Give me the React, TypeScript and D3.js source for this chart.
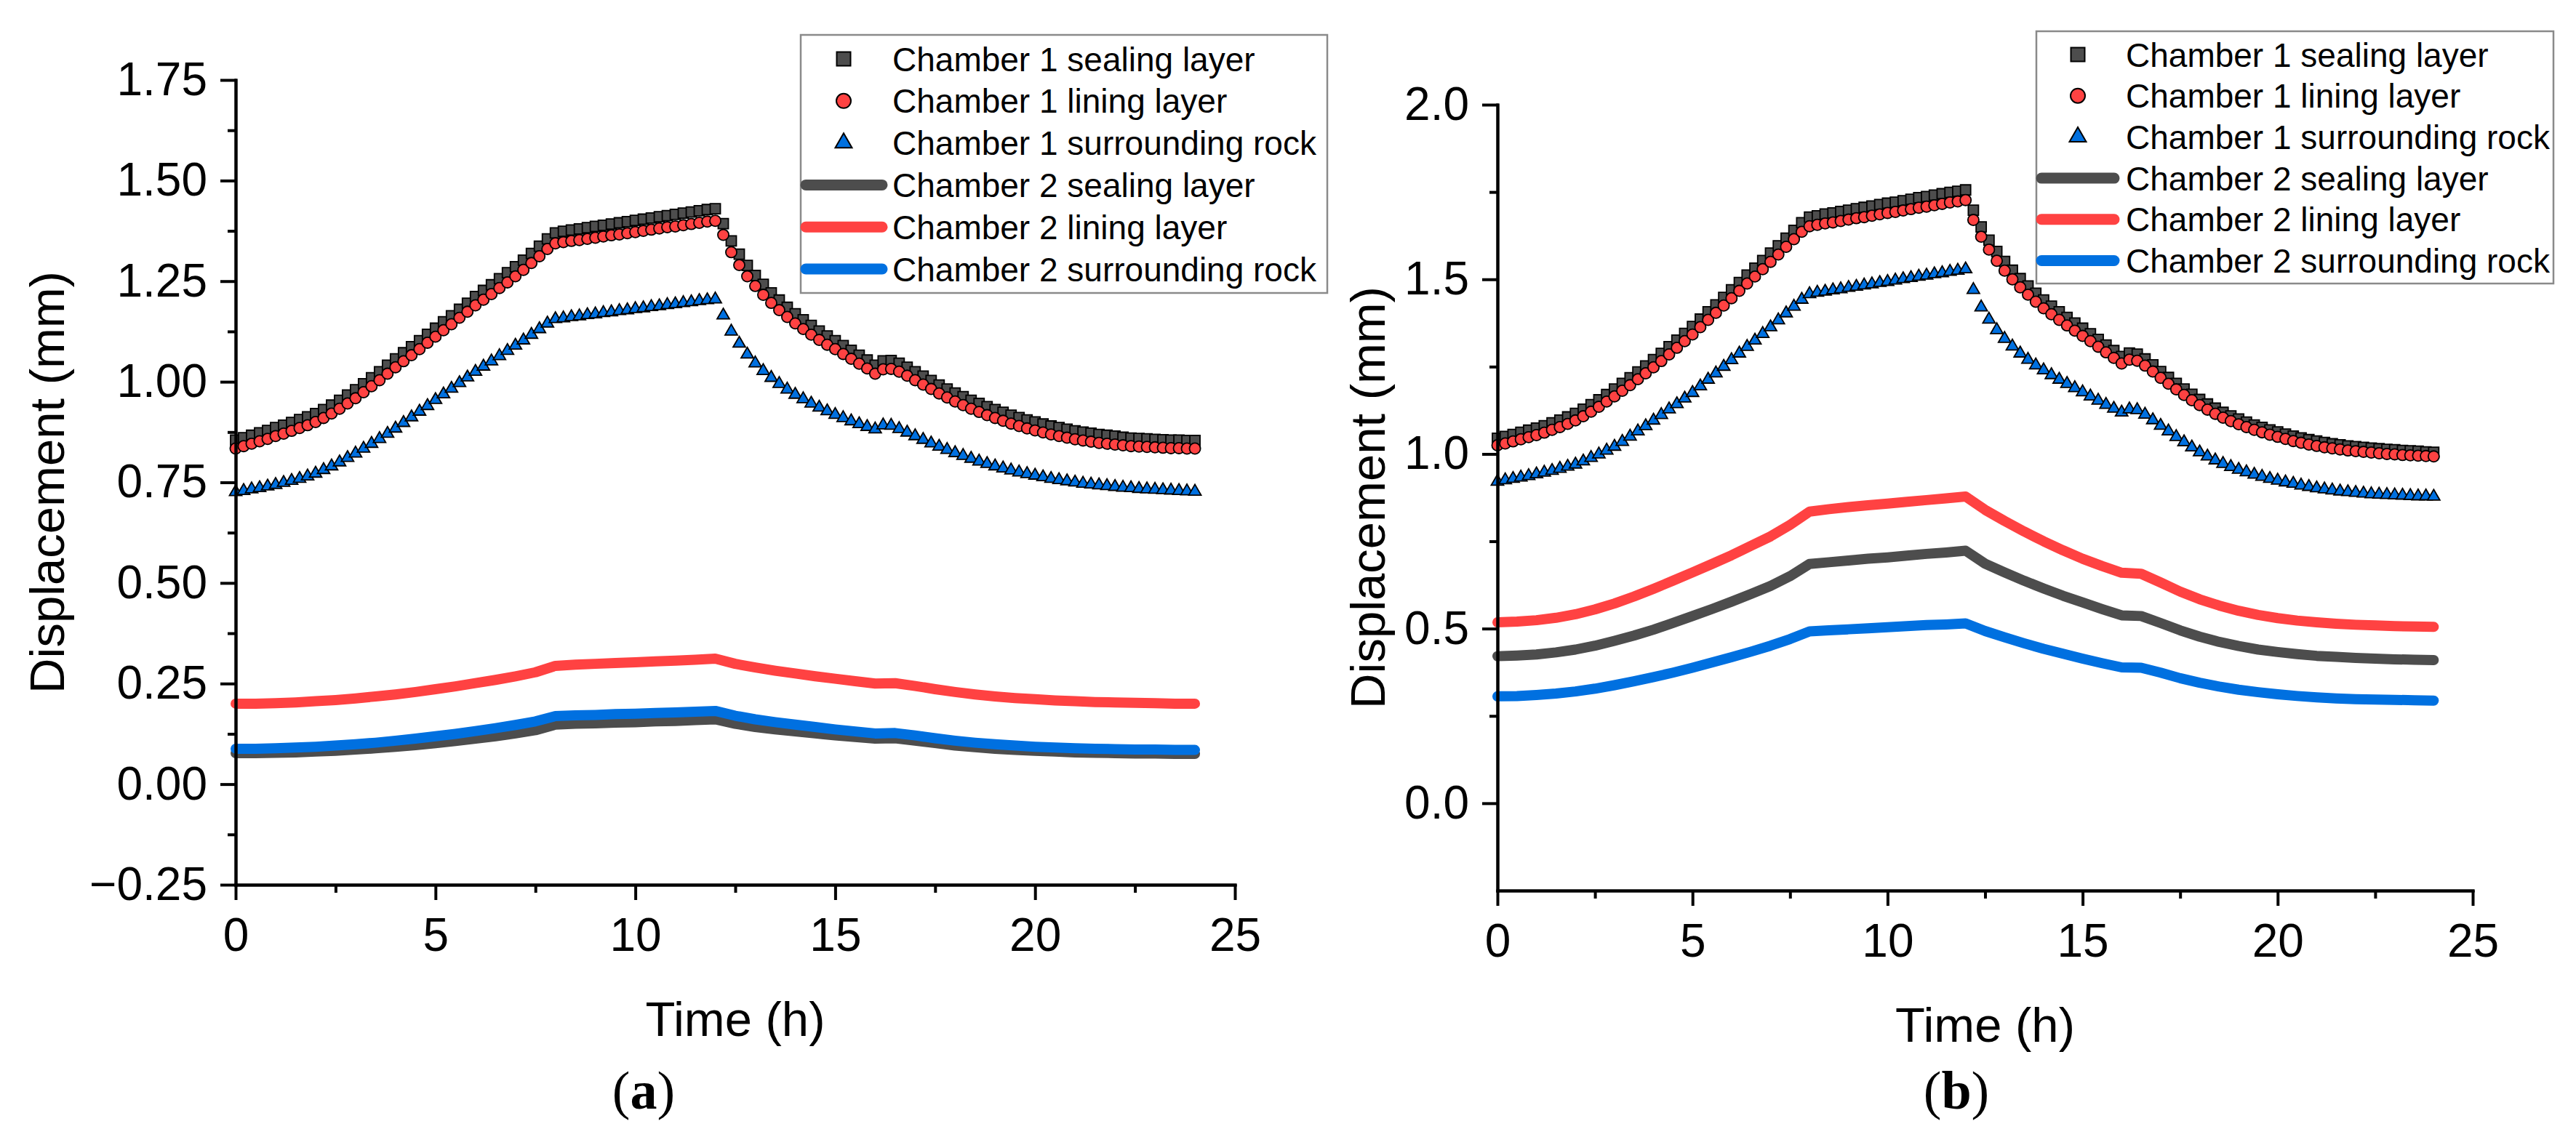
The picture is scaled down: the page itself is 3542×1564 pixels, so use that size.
import { useEffect, useRef } from "react";
import * as d3 from "d3";

const W = 3542;
const H = 1564;
const SANS = "'Liberation Sans', Arial, Helvetica, sans-serif";
const SERIF = "'Liberation Serif', 'Times New Roman', serif";

// sampling interval of the chamber 1 (marker) series and chamber 2 (line) series, in hours
const MARK_STEP = 0.2;
const LINE_STEP = 0.5;

const legendLabels = [
  "Chamber 1 sealing layer",
  "Chamber 1 lining layer",
  "Chamber 1 surrounding rock",
  "Chamber 2 sealing layer",
  "Chamber 2 lining layer",
  "Chamber 2 surrounding rock",
];

const xTicks = [0, 5, 10, 15, 20, 25];
const xMinorTicks = [2.5, 7.5, 12.5, 17.5, 22.5];
const yTicksA = [-0.25, 0, 0.25, 0.5, 0.75, 1, 1.25, 1.5, 1.75];
const yMinorA = [-0.125, 0.125, 0.375, 0.625, 0.875, 1.125, 1.375, 1.625];
const yTicksB = [0, 0.5, 1, 1.5, 2];
const yMinorB = [0.25, 0.75, 1.25, 1.75];

// ---- panel (a) ----
const sealA = [
  0.855, 0.861, 0.867, 0.873, 0.879, 0.886, 0.892, 0.899, 0.906, 0.913,
  0.921, 0.931, 0.942, 0.954, 0.967, 0.98, 0.995, 1.01, 1.025, 1.041,
  1.057, 1.072, 1.087, 1.102, 1.118, 1.133, 1.149, 1.164, 1.18, 1.195,
  1.212, 1.227, 1.241, 1.256, 1.271, 1.286, 1.302, 1.319, 1.337, 1.355,
  1.37, 1.374, 1.377, 1.38, 1.383, 1.386, 1.389, 1.392, 1.395, 1.398,
  1.401, 1.404, 1.407, 1.41, 1.413, 1.416, 1.419, 1.422, 1.425, 1.428,
  1.43, 1.393, 1.35, 1.317, 1.289, 1.264, 1.242, 1.221, 1.203, 1.185,
  1.169, 1.154, 1.14, 1.126, 1.114, 1.102, 1.09, 1.078, 1.066, 1.054,
  1.041, 1.052, 1.053, 1.046, 1.036, 1.025, 1.014, 1.003, 0.992, 0.982,
  0.972, 0.963, 0.954, 0.946, 0.938, 0.931, 0.924, 0.917, 0.911, 0.905,
  0.9, 0.895, 0.89, 0.886, 0.882, 0.878, 0.875, 0.872, 0.869, 0.867,
  0.865, 0.862, 0.86, 0.859, 0.858, 0.857, 0.856, 0.855, 0.855, 0.854,
  0.854,
];
const liningA = [
  0.834, 0.84, 0.846, 0.852, 0.858, 0.865, 0.871, 0.878, 0.885, 0.892,
  0.9, 0.91, 0.921, 0.933, 0.946, 0.959, 0.974, 0.989, 1.004, 1.02,
  1.036, 1.051, 1.066, 1.081, 1.097, 1.112, 1.128, 1.143, 1.159, 1.174,
  1.19, 1.204, 1.218, 1.233, 1.247, 1.262, 1.278, 1.295, 1.312, 1.33,
  1.344, 1.347, 1.35, 1.352, 1.355, 1.358, 1.361, 1.364, 1.366, 1.369,
  1.372, 1.375, 1.378, 1.381, 1.384, 1.386, 1.389, 1.392, 1.395, 1.398,
  1.4, 1.365, 1.322, 1.29, 1.262, 1.238, 1.216, 1.196, 1.178, 1.161,
  1.145, 1.131, 1.117, 1.104, 1.092, 1.081, 1.069, 1.057, 1.045, 1.033,
  1.02, 1.031, 1.032, 1.025, 1.015, 1.004, 0.993, 0.982, 0.971, 0.961,
  0.951, 0.942, 0.933, 0.925, 0.917, 0.91, 0.903, 0.896, 0.89, 0.884,
  0.879, 0.874, 0.869, 0.865, 0.861, 0.857, 0.854, 0.851, 0.848, 0.846,
  0.844, 0.842, 0.84, 0.839, 0.838, 0.837, 0.836, 0.835, 0.835, 0.834,
  0.834,
];
const rockA = [
  0.726, 0.729, 0.733, 0.736, 0.74, 0.744, 0.749, 0.754, 0.759, 0.765,
  0.772, 0.781, 0.79, 0.8, 0.811, 0.822, 0.834, 0.846, 0.858, 0.871,
  0.884, 0.898, 0.912, 0.926, 0.94, 0.955, 0.969, 0.983, 0.997, 1.011,
  1.025, 1.038, 1.051, 1.064, 1.077, 1.09, 1.103, 1.117, 1.131, 1.145,
  1.156, 1.158, 1.161, 1.163, 1.166, 1.168, 1.171, 1.173, 1.176, 1.178,
  1.181, 1.183, 1.186, 1.188, 1.191, 1.193, 1.196, 1.198, 1.201, 1.203,
  1.205, 1.165, 1.125, 1.095, 1.068, 1.046, 1.027, 1.01, 0.995, 0.981,
  0.968, 0.957, 0.946, 0.936, 0.927, 0.918, 0.91, 0.902, 0.895, 0.888,
  0.882, 0.892, 0.891, 0.883, 0.874, 0.865, 0.856, 0.847, 0.839, 0.831,
  0.823, 0.816, 0.809, 0.802, 0.796, 0.79, 0.785, 0.78, 0.775, 0.771,
  0.767, 0.763, 0.759, 0.756, 0.753, 0.75, 0.747, 0.745, 0.743, 0.741,
  0.739, 0.737, 0.736, 0.734, 0.733, 0.732, 0.731, 0.73, 0.729, 0.728,
  0.727,
];
const seal2A = [
  0.077, 0.077, 0.078, 0.079, 0.081, 0.083, 0.086, 0.089, 0.093, 0.097,
  0.102, 0.107, 0.113, 0.119, 0.126, 0.134, 0.148, 0.15, 0.151, 0.153,
  0.154, 0.156, 0.157, 0.159, 0.161, 0.15, 0.142, 0.136, 0.131, 0.126,
  0.121, 0.117, 0.113, 0.114, 0.108, 0.102, 0.096, 0.092, 0.088, 0.085,
  0.083, 0.081, 0.079, 0.078, 0.077, 0.076, 0.076, 0.075, 0.075,
];
const lining2A = [
  0.2, 0.2, 0.201, 0.203, 0.206, 0.209, 0.213, 0.218, 0.223, 0.229,
  0.236, 0.243, 0.251, 0.259, 0.268, 0.278, 0.294, 0.297, 0.299, 0.301,
  0.303, 0.305, 0.307, 0.309, 0.312, 0.299, 0.29, 0.282, 0.275, 0.268,
  0.262, 0.256, 0.25, 0.251, 0.244, 0.236, 0.229, 0.223, 0.218, 0.214,
  0.211, 0.208, 0.206, 0.204, 0.203, 0.202, 0.201, 0.2, 0.2,
];
const rock2A = [
  0.088, 0.088, 0.089, 0.091, 0.093, 0.096, 0.099, 0.103, 0.108, 0.113,
  0.119, 0.125, 0.132, 0.139, 0.147, 0.156, 0.169, 0.171, 0.172, 0.174,
  0.175, 0.177, 0.178, 0.18, 0.182, 0.17, 0.161, 0.154, 0.148, 0.142,
  0.136, 0.131, 0.126, 0.127, 0.121, 0.114, 0.108, 0.103, 0.099, 0.096,
  0.093, 0.091, 0.089, 0.088, 0.087, 0.086, 0.086, 0.085, 0.085,
];

// ---- panel (b) ----
const sealB = [
  1.045, 1.05, 1.056, 1.062, 1.068, 1.074, 1.081, 1.089, 1.097, 1.106,
  1.116, 1.128, 1.141, 1.155, 1.17, 1.186, 1.202, 1.218, 1.235, 1.252,
  1.27, 1.288, 1.307, 1.326, 1.345, 1.365, 1.386, 1.407, 1.427, 1.448,
  1.47, 1.491, 1.512, 1.532, 1.554, 1.575, 1.596, 1.618, 1.64, 1.662,
  1.678, 1.682, 1.687, 1.69, 1.694, 1.698, 1.702, 1.706, 1.71, 1.714,
  1.718, 1.721, 1.725, 1.729, 1.734, 1.737, 1.741, 1.745, 1.749, 1.752,
  1.756, 1.698, 1.65, 1.612, 1.58, 1.551, 1.526, 1.502, 1.481, 1.46,
  1.441, 1.423, 1.407, 1.391, 1.375, 1.36, 1.344, 1.328, 1.312, 1.296,
  1.279, 1.289, 1.286, 1.272, 1.255, 1.236, 1.219, 1.202, 1.186, 1.171,
  1.156, 1.143, 1.131, 1.119, 1.109, 1.1, 1.091, 1.083, 1.076, 1.069,
  1.063, 1.057, 1.051, 1.046, 1.041, 1.037, 1.033, 1.029, 1.026, 1.023,
  1.021, 1.019, 1.017, 1.015, 1.013, 1.012, 1.01, 1.009, 1.008, 1.006,
  1.005,
];
const liningB = [
  1.025, 1.03, 1.036, 1.042, 1.048, 1.054, 1.061, 1.069, 1.077, 1.086,
  1.096, 1.108, 1.121, 1.135, 1.15, 1.165, 1.181, 1.197, 1.214, 1.231,
  1.248, 1.266, 1.285, 1.304, 1.323, 1.342, 1.363, 1.384, 1.404, 1.425,
  1.446, 1.467, 1.488, 1.508, 1.529, 1.55, 1.571, 1.593, 1.615, 1.636,
  1.652, 1.656, 1.66, 1.663, 1.667, 1.671, 1.675, 1.678, 1.682, 1.686,
  1.69, 1.693, 1.697, 1.701, 1.705, 1.708, 1.712, 1.716, 1.72, 1.723,
  1.727, 1.67, 1.622, 1.585, 1.553, 1.525, 1.5, 1.477, 1.456, 1.436,
  1.417, 1.4, 1.384, 1.368, 1.353, 1.338, 1.323, 1.307, 1.291, 1.275,
  1.259, 1.27, 1.267, 1.253, 1.236, 1.218, 1.201, 1.185, 1.169, 1.154,
  1.14, 1.127, 1.115, 1.104, 1.094, 1.085, 1.077, 1.069, 1.062, 1.055,
  1.049, 1.043, 1.037, 1.032, 1.027, 1.023, 1.019, 1.016, 1.013, 1.01,
  1.008, 1.006, 1.004, 1.002, 1.0, 0.999, 0.997, 0.996, 0.995, 0.994,
  0.993,
];
const rockB = [
  0.921, 0.925, 0.929, 0.933, 0.937, 0.942, 0.947, 0.952, 0.958, 0.964,
  0.97, 0.979, 0.989, 0.999, 1.01, 1.021, 1.035, 1.05, 1.065, 1.08,
  1.096, 1.112, 1.128, 1.143, 1.159, 1.175, 1.194, 1.213, 1.231, 1.25,
  1.269, 1.288, 1.307, 1.325, 1.344, 1.363, 1.383, 1.403, 1.422, 1.442,
  1.458, 1.462, 1.465, 1.469, 1.472, 1.476, 1.479, 1.483, 1.486, 1.49,
  1.493, 1.497, 1.501, 1.504, 1.508, 1.511, 1.515, 1.518, 1.522, 1.525,
  1.529, 1.47, 1.42, 1.385, 1.355, 1.33, 1.308, 1.288, 1.27, 1.254,
  1.24, 1.226, 1.213, 1.201, 1.189, 1.177, 1.165, 1.153, 1.141, 1.13,
  1.119, 1.128, 1.126, 1.113, 1.097, 1.081, 1.065, 1.049, 1.034, 1.019,
  1.005, 0.993, 0.982, 0.972, 0.963, 0.955, 0.948, 0.941, 0.935, 0.929,
  0.924, 0.919, 0.915, 0.91, 0.906, 0.902, 0.899, 0.896, 0.893, 0.891,
  0.889, 0.887, 0.885, 0.884, 0.883, 0.882, 0.881, 0.88, 0.879, 0.879,
  0.878,
];
const seal2B = [
  0.421, 0.423, 0.426, 0.432, 0.44, 0.451, 0.465, 0.48, 0.497, 0.516,
  0.536, 0.556, 0.577, 0.599, 0.622, 0.65, 0.685, 0.69, 0.695, 0.7,
  0.704, 0.709, 0.714, 0.718, 0.723, 0.686, 0.661, 0.637, 0.615, 0.594,
  0.575, 0.556, 0.538, 0.536, 0.516, 0.495, 0.477, 0.462, 0.45, 0.44,
  0.433, 0.427, 0.422, 0.419, 0.416, 0.414, 0.412, 0.411, 0.41,
];
const lining2B = [
  0.518, 0.52, 0.524, 0.531, 0.541, 0.555, 0.572, 0.592, 0.614, 0.637,
  0.661, 0.685, 0.71, 0.737, 0.764, 0.797, 0.835, 0.842, 0.848, 0.853,
  0.858, 0.863, 0.868, 0.873, 0.878, 0.84, 0.808, 0.778, 0.75, 0.724,
  0.7, 0.679, 0.66, 0.657, 0.632, 0.606, 0.584, 0.566, 0.551, 0.539,
  0.53, 0.523, 0.518, 0.514, 0.511, 0.509, 0.507, 0.506, 0.505,
];
const rock2B = [
  0.306, 0.307, 0.31, 0.314, 0.32, 0.328, 0.338, 0.349, 0.361, 0.374,
  0.388, 0.403, 0.418, 0.434, 0.451, 0.47, 0.492, 0.495, 0.498, 0.501,
  0.504, 0.507, 0.51, 0.512, 0.515, 0.493, 0.475, 0.458, 0.442, 0.428,
  0.414, 0.401, 0.389, 0.388, 0.374, 0.358, 0.345, 0.334, 0.325, 0.318,
  0.312, 0.307, 0.303, 0.3, 0.298, 0.297, 0.296, 0.295, 0.294,
];

const GRAY = "#4d4d4d";
const RED = "#ff4242";
const BLUE = "#0070e0";

const panels = [
  {
    key: "a",
    x0: 324, x1: 1698, yTop: 110, yBottom: 1217,
    yDomain: [-0.25, 1.75], yTicks: yTicksA, yMinor: yMinorA, yFmt: ".2f",
    marks: [sealA, liningA, rockA], lines: [seal2A, lining2A, rock2A],
    yTitleX: 88, legend: { left: 1101, top: 48, right: 1825, bottom: 403, row0: 81, rowGap: 57.8, sym: 59, lineEnd: 119, text: 126 },
    tagX: 885,
  },
  {
    key: "b",
    x0: 2059, x1: 3400, yTop: 144, yBottom: 1225,
    yDomain: [-0.25, 2.0], yTicks: yTicksB, yMinor: yMinorB, yFmt: ".1f",
    marks: [sealB, liningB, rockB], lines: [seal2B, lining2B, rock2B],
    yTitleX: 1904, legend: { left: 2800, top: 43, right: 3511, bottom: 390, row0: 75, rowGap: 56.7, sym: 57, lineEnd: 114, text: 123 },
    tagX: 2690,
  },
];

const markStyles = [
  { type: d3.symbolSquare, size: 196, legendSize: 361, fill: GRAY },
  { type: d3.symbolCircle, size: 180, legendSize: 314, fill: RED },
  { type: d3.symbolTriangle, size: 125, legendSize: 229, fill: BLUE },
];
const lineColors = [GRAY, RED, BLUE];

function Axes({ p, x, y }: { p: any; x: any; y: any }) {
  const ref = useRef<SVGGElement | null>(null);

  useEffect(() => {
    const g = d3.select(ref.current);
    g.selectAll("*").remove();

    const bottom = g.append("g").attr("transform", `translate(0,${p.yBottom})`);
    bottom.append("g").call(
      d3.axisBottom(x).tickValues(xMinorTicks).tickSize(11).tickSizeOuter(0).tickFormat(() => "")
    );
    bottom.append("g").call(
      d3.axisBottom(x).tickValues(xTicks).tickSize(21).tickPadding(25).tickSizeOuter(0).tickFormat(d3.format("d"))
    );

    const left = g.append("g").attr("transform", `translate(${p.x0},0)`);
    left.append("g").call(
      d3.axisLeft(y).tickValues(p.yMinor).tickSize(11).tickSizeOuter(0).tickFormat(() => "")
    );
    left.append("g").call(
      d3.axisLeft(y).tickValues(p.yTicks).tickSize(21).tickPadding(18).tickSizeOuter(0).tickFormat(d3.format(p.yFmt))
    );

    g.selectAll("g").attr("font-size", null).attr("font-family", null);
    g.selectAll(".domain").attr("stroke", "#000").attr("stroke-width", 4).attr("stroke-linecap", "square");
    g.selectAll(".tick line").attr("stroke", "#000").attr("stroke-width", 4);
    g.selectAll(".tick text")
      .attr("fill", "#000")
      .attr("font-size", 64)
      .attr("font-family", SANS);
  }, [p, x, y]);

  return <g ref={ref} />;
}

function Panel({ p }: { p: any }) {
  const x = d3.scaleLinear().domain([0, 25]).range([p.x0, p.x1]);
  const y = d3.scaleLinear().domain(p.yDomain).range([p.yBottom, p.yTop]);
  const line = d3
    .line<number>()
    .x((_, i) => x(i * LINE_STEP))
    .y((v) => y(v));
  const lg = p.legend;

  return (
    <g>
      {p.marks.map((vals: number[], si: number) => {
        const st = markStyles[si];
        const d = d3.symbol(st.type, st.size)() as string;
        return (
          <g key={`m${si}`}>
            {vals.map((v, i) => (
              <path
                key={i}
                d={d}
                transform={`translate(${x(i * MARK_STEP)},${y(v)})`}
                fill={st.fill}
                stroke="#000"
                strokeWidth={1.8}
              />
            ))}
          </g>
        );
      })}
      {p.lines.map((vals: number[], si: number) => (
        <path
          key={`l${si}`}
          d={line(vals) as string}
          fill="none"
          stroke={lineColors[si]}
          strokeWidth={14}
          strokeLinecap="round"
          strokeLinejoin="round"
        />
      ))}

      <Axes p={p} x={x} y={y} />

      <text
        transform={`translate(${p.yTitleX},${(p.yTop + p.yBottom) / 2}) rotate(-90)`}
        textAnchor="middle"
        fontFamily={SANS}
        fontSize={67}
        fill="#000"
      >
        Displacement (mm)
      </text>
      <text
        x={(p.x0 + p.x1) / 2}
        y={p.yBottom + 208}
        textAnchor="middle"
        fontFamily={SANS}
        fontSize={67}
        fill="#000"
      >
        Time (h)
      </text>
      <text x={p.tagX} y={1525} textAnchor="middle" fontFamily={SERIF} fontSize={74} fill="#000">
        (<tspan fontWeight="bold">{p.key}</tspan>)
      </text>

      <rect
        x={lg.left}
        y={lg.top}
        width={lg.right - lg.left}
        height={lg.bottom - lg.top}
        fill="#fff"
        stroke="#8a8a8a"
        strokeWidth={2.5}
      />
      {legendLabels.map((label, i) => {
        const cy = lg.row0 + i * lg.rowGap;
        return (
          <g key={label}>
            {i < 3 ? (
              <path
                d={d3.symbol(markStyles[i].type, markStyles[i].legendSize)() as string}
                transform={`translate(${lg.left + lg.sym},${cy})`}
                fill={markStyles[i].fill}
                stroke="#000"
                strokeWidth={2}
              />
            ) : (
              <line
                x1={lg.left + 7}
                x2={lg.left + lg.lineEnd - 7}
                y1={cy}
                y2={cy}
                stroke={lineColors[i - 3]}
                strokeWidth={15}
                strokeLinecap="round"
              />
            )}
            <text
              x={lg.left + lg.text}
              y={cy}
              dy="0.36em"
              fontFamily={SANS}
              fontSize={46}
              fill="#000"
            >
              {label}
            </text>
          </g>
        );
      })}
    </g>
  );
}

export default function App() {
  return (
    <svg
      width={W}
      height={H}
      viewBox={`0 0 ${W} ${H}`}
      style={{ position: "absolute", left: 0, top: 0, background: "#fff" }}
    >
      <rect width={W} height={H} fill="#fff" />
      {panels.map((p) => (
        <Panel key={p.key} p={p} />
      ))}
    </svg>
  );
}
